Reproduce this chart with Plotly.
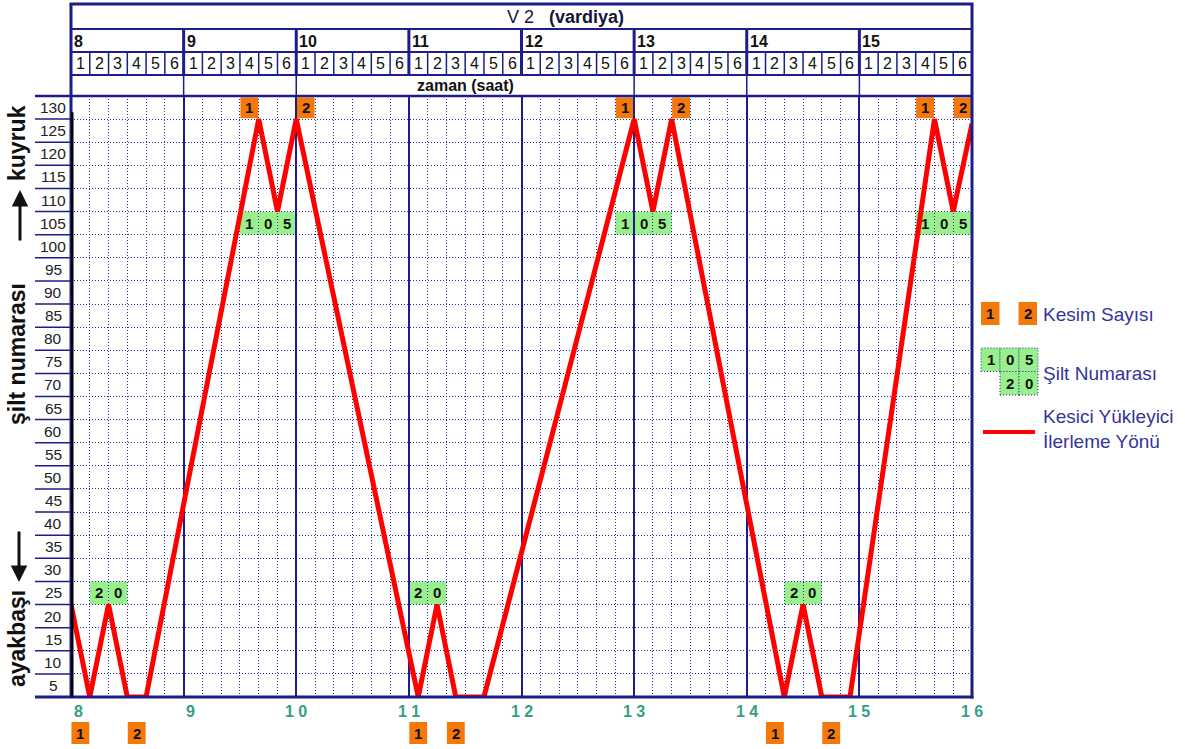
import plotly.graph_objects as go

# ---------------- data ----------------
hour_ticks = [8, 9, 10, 11, 12, 13, 14, 15, 16]
bottom_hour_labels = ["8", "9", "1 0", "1 1", "1 2", "1 3", "1 4", "1 5", "1 6"]
header_hours = ["8", "9", "10", "11", "12", "13", "14", "15"]
sixth_labels = ["1", "2", "3", "4", "5", "6"]
y_tick_labels = [5, 10, 15, 20, 25, 30, 35, 40, 45, 50, 55, 60, 65,
                 70, 75, 80, 85, 90, 95, 100, 105, 110, 115, 120, 125, 130]

path_times = ["8:00", "8:10", "8:20", "8:30", "8:40", "9:40", "9:50", "10:00",
              "11:05", "11:15", "11:25", "11:40", "13:00", "13:10", "13:20",
              "14:20", "14:30", "14:40", "14:55", "15:40", "15:50", "16:00"]
path_shilt = [20, 0, 20, 0, 0, 125, 105, 125,
              0, 20, 0, 0, 125, 105, 125,
              0, 20, 0, 0, 125, 105, 124]

top_cut_times = ["9:30", "10:00", "12:50", "13:20", "15:30", "15:50"]
top_cut_labels = ["1", "2", "1", "2", "1", "2"]
bottom_cut_times = ["8:00", "8:30", "11:00", "11:20", "14:10", "14:40"]
bottom_cut_labels = ["1", "2", "1", "2", "1", "2"]

shilt_high_times = ["9:30", "12:50", "15:30"]
shilt_high_label = "105"
shilt_low_times = ["8:10", "11:00", "14:20"]
shilt_low_label = "20"

legend_cut_text = "Kesim Sayısı"
legend_shilt_text = "Şilt Numarası"
legend_line_text = ["Kesici Yükleyici", "İlerleme Yönü"]

# ---------------- helpers ----------------
W, H = 1185, 749
PL, PR, PT, PB = 71, 972, 96, 697


def px(x):
    return (x - PL) / (PR - PL)


def py(y):
    return (PB - y) / (PB - PT)


def t(s):
    h, m = s.split(":")
    return int(h) + int(m) / 60.0


CELL = 1 / 6.0
NAVY = "#1c1c8a"
DOT = "#2a2aa0"
ORANGE = "#f5780a"
GREEN = "#98ef8c"
TEAL = "#35a07f"
FONT = "Liberation Sans, Arial, sans-serif"

fig = go.Figure()

fig.add_trace(go.Scatter(
    x=[t(s) for s in path_times], y=path_shilt, mode="lines",
    line=dict(color="#ff0000", width=5), hoverinfo="skip", showlegend=False))

shapes = []
ann = []


def hline_px(y, x0, x1, w, color=NAVY):
    shapes.append(dict(type="line", xref="paper", yref="paper",
                       x0=px(x0), x1=px(x1), y0=py(y), y1=py(y),
                       line=dict(color=color, width=w), layer="above"))


def vline_px(x, y0, y1, w, color=NAVY):
    shapes.append(dict(type="line", xref="paper", yref="paper",
                       x0=px(x), x1=px(x), y0=py(y0), y1=py(y1),
                       line=dict(color=color, width=w), layer="above"))


# header frame
hline_px(4, PL - 1.5, PR + 1.5, 3)
hline_px(29, PL, PR, 2)
hline_px(52, PL, PR, 2)
hline_px(75, PL, PR, 2)
hline_px(PT, 35, PR, 2.5)
hline_px(PB, 35, PR + 1.5, 3)
vline_px(PL, 4, PB, 3)
vline_px(PR, 4, PB + 1.5, 3)

for h in hour_ticks[1:-1]:
    shapes.append(dict(type="line", xref="x", yref="paper", x0=h, x1=h,
                       y0=py(29), y1=py(75), line=dict(color=NAVY, width=3)))
for h in hour_ticks[:-1]:
    for i in range(1, 6):
        xx = h + i * CELL
        shapes.append(dict(type="line", xref="x", yref="paper", x0=xx, x1=xx,
                           y0=py(52), y1=py(75), line=dict(color=NAVY, width=1.5)))
for h in [9, 10, 13, 14, 15]:
    shapes.append(dict(type="line", xref="x", yref="paper", x0=h, x1=h,
                       y0=py(75), y1=py(PT), line=dict(color=NAVY, width=1.5)))

# left label column lines
for v in y_tick_labels[:-1]:
    shapes.append(dict(type="line", xref="paper", yref="y", x0=px(35), x1=px(PL),
                       y0=v, y1=v, line=dict(color=NAVY, width=1.5)))

# black thick axis line
shapes.append(dict(type="line", xref="x", yref="y", x0=8, x1=8, y0=0, y1=126.5,
                   line=dict(color="black", width=5), layer="above"))

BOX_FONT = dict(size=15, color="#111", family=FONT)

# orange cut boxes (top)
for s, lab in zip(top_cut_times, top_cut_labels):
    x0 = t(s)
    shapes.append(dict(type="rect", xref="x", yref="y", x0=x0 + 0.004, x1=x0 + CELL - 0.004,
                       y0=125.2, y1=129.7, fillcolor=ORANGE, line=dict(width=0), layer="below"))
    ann.append(dict(x=x0 + CELL / 2, y=127.5, xref="x", yref="y", text="<b>%s</b>" % lab,
                    showarrow=False, font=BOX_FONT))
# orange cut boxes (bottom)
for s, lab in zip(bottom_cut_times, bottom_cut_labels):
    x0 = t(s)
    shapes.append(dict(type="rect", xref="x", yref="paper", x0=x0 + 0.004, x1=x0 + CELL - 0.004,
                       y0=py(744), y1=py(722), fillcolor=ORANGE, line=dict(width=0)))
    ann.append(dict(x=x0 + CELL / 2, y=py(733.5), xref="x", yref="paper", text="<b>%s</b>" % lab,
                    showarrow=False, font=BOX_FONT))

# green şilt cells
for times, label, ylo in [(shilt_high_times, shilt_high_label, 100),
                          (shilt_low_times, shilt_low_label, 20)]:
    for s in times:
        x0 = t(s)
        for k, ch in enumerate(label):
            cx = x0 + k * CELL
            shapes.append(dict(type="rect", xref="x", yref="y", x0=cx, x1=cx + CELL,
                               y0=ylo, y1=ylo + 5, fillcolor=GREEN, line=dict(width=0),
                               layer="below"))
            ann.append(dict(x=cx + CELL / 2, y=ylo + 2.5, xref="x", yref="y",
                            text="<b>%s</b>" % ch, showarrow=False, font=BOX_FONT))

# header texts
ann.append(dict(x=px(565), y=py(17), xref="paper", yref="paper",
                text="V 2&nbsp;&nbsp; <b>(vardiya)</b>", showarrow=False,
                font=dict(size=18, color="#15153a", family=FONT)))
for h, lab in zip(hour_ticks[:-1], header_hours):
    ann.append(dict(x=h, y=py(41), xref="x", yref="paper", text="<b>%s</b>" % lab,
                    xanchor="left", xshift=1, showarrow=False,
                    font=dict(size=16, color="#111", family=FONT)))
    for i, s in enumerate(sixth_labels):
        ann.append(dict(x=h + (i + 0.5) * CELL, y=py(63.5), xref="x", yref="paper", text=s,
                        showarrow=False, font=dict(size=16, color="#111", family=FONT)))
ann.append(dict(x=11.5, y=py(85.5), xref="x", yref="paper", text="<b>zaman (saat)</b>",
                showarrow=False, font=dict(size=16, color="#111", family=FONT)))

# y labels (row centred)
for v in y_tick_labels:
    ann.append(dict(x=px(53), y=v - 2.5, xref="paper", yref="y", text=str(v),
                    showarrow=False, font=dict(size=15.5, color="#222", family=FONT)))

# bottom hour labels
for h, lab in zip(hour_ticks, bottom_hour_labels):
    ann.append(dict(x=h, y=py(711), xref="x", yref="paper", text="<b>%s</b>" % lab,
                    xshift=7 if len(lab) == 1 else 0, showarrow=False,
                    font=dict(size=16, color=TEAL, family=FONT)))

# left axis titles
for txt, yc in [("kuyruk", 143), ("şilt numarası", 354), ("ayakbaşı", 639)]:
    ann.append(dict(x=px(17), y=py(yc), xref="paper", yref="paper", text="<b>%s</b>" % txt,
                    textangle=-90, showarrow=False,
                    font=dict(size=23, color="#111", family=FONT)))
ann.append(dict(x=px(20), y=py(190), xref="paper", yref="paper", text="", showarrow=True,
                ax=0, ay=52, arrowhead=2, arrowsize=1.1, arrowwidth=3, arrowcolor="#111"))
ann.append(dict(x=px(19), y=py(582), xref="paper", yref="paper", text="", showarrow=True,
                ax=0, ay=-52, arrowhead=2, arrowsize=1.1, arrowwidth=3, arrowcolor="#111"))

# legend
LEG_TXT = dict(size=19, color="#34349a", family=FONT)
for x0, lab in [(981, "1"), (1018.5, "2")]:
    shapes.append(dict(type="rect", xref="paper", yref="paper", x0=px(x0), x1=px(x0 + 18.5),
                       y0=py(325), y1=py(302), fillcolor=ORANGE, line=dict(width=0)))
    ann.append(dict(x=px(x0 + 9.25), y=py(313.5), xref="paper", yref="paper",
                    text="<b>%s</b>" % lab, showarrow=False, font=BOX_FONT))
ann.append(dict(x=px(1041), y=py(314), xref="paper", yref="paper", text=legend_cut_text,
                xanchor="left", showarrow=False, font=LEG_TXT))

leg_cells = [(981, 348, "1"), (1000, 348, "0"), (1019, 348, "5"),
             (1000, 371.5, "2"), (1019, 371.5, "0")]
for x0, y0, ch in leg_cells:
    shapes.append(dict(type="rect", xref="paper", yref="paper", x0=px(x0), x1=px(x0 + 19),
                       y0=py(y0 + 23.5), y1=py(y0), fillcolor=GREEN,
                       line=dict(width=1, color=DOT, dash="1px,2px")))
    ann.append(dict(x=px(x0 + 9.5), y=py(y0 + 11.75), xref="paper", yref="paper",
                    text="<b>%s</b>" % ch, showarrow=False, font=BOX_FONT))
ann.append(dict(x=px(1041), y=py(373), xref="paper", yref="paper", text=legend_shilt_text,
                xanchor="left", showarrow=False, font=LEG_TXT))

shapes.append(dict(type="line", xref="paper", yref="paper", x0=px(983), x1=px(1035),
                   y0=py(432), y1=py(432), line=dict(color="#ff0000", width=4)))
ann.append(dict(x=px(1041), y=py(416), xref="paper", yref="paper", text=legend_line_text[0],
                xanchor="left", showarrow=False, font=LEG_TXT))
ann.append(dict(x=px(1041), y=py(442), xref="paper", yref="paper", text=legend_line_text[1],
                xanchor="left", showarrow=False, font=LEG_TXT))

# explicit anchors (paper-referenced annotations default to "auto" anchoring)
for a in ann:
    a.setdefault("xanchor", "center")
    a.setdefault("yanchor", "middle")

fig.update_layout(
    width=W, height=H, autosize=False,
    margin=dict(l=PL, r=W - PR, t=PT, b=H - PB, pad=0),
    paper_bgcolor="white", plot_bgcolor="white",
    showlegend=False,
    shapes=shapes, annotations=ann,
    xaxis=dict(range=[8, 16], tick0=8, dtick=1, showgrid=True, gridcolor=NAVY, gridwidth=1.5,
               showticklabels=False, ticks="", zeroline=False, showline=False,
               minor=dict(tick0=8, dtick=CELL, showgrid=True, gridcolor=DOT, gridwidth=1,
                          griddash="1px,2px", ticks="")),
    yaxis=dict(range=[0, 130], tick0=0, dtick=5, showgrid=True, gridcolor=DOT, gridwidth=1,
               griddash="1px,2px", showticklabels=False, ticks="", zeroline=False,
               showline=False),
)

fig.write_html("out.html", config={"displayModeBar": False},
               post_script="document.body.style.margin='0';")
